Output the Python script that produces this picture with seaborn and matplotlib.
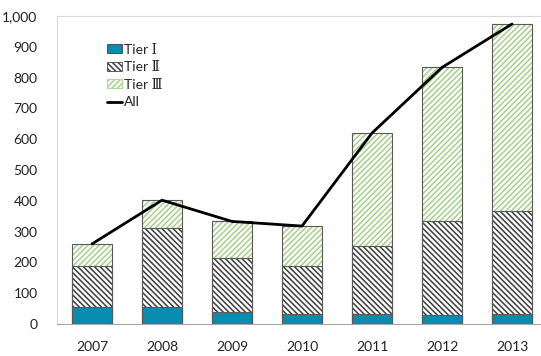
import numpy as np
import pandas as pd
import matplotlib
matplotlib.use("Agg")
import matplotlib.pyplot as plt
import seaborn as sns
from matplotlib.patches import Patch
from matplotlib.lines import Line2D
from matplotlib.ticker import FixedLocator, FuncFormatter

# data
years = ["2007", "2008", "2009", "2010", "2011", "2012", "2013"]
tier1 = [55, 55, 38, 32, 32, 28, 32]
tier2 = [134, 258, 177, 156, 221, 305, 335]
tier3 = [71, 89, 118, 130, 367, 500, 607]
total = [260, 402, 333, 318, 620, 833, 974]

sns.set_style("white")
plt.rcParams["font.family"] = ["Lato", "DejaVu Sans"]
plt.rcParams["hatch.linewidth"] = 1.15

H2 = "\\" * 6
H3 = "/" * 6

df = pd.DataFrame({"Year": years, "T1": tier1, "T2": tier2, "T3": tier3, "All": total})
df["c1"] = df["T1"]
df["c2"] = df["T1"] + df["T2"]
df["c3"] = df["c2"] + df["T3"]

fig = plt.figure(figsize=(5.41, 3.56), dpi=100)
ax = fig.add_axes([57 / 541, 32 / 356, 490 / 541, 308 / 356])

w = 0.56
# hatched layers (tallest first, overlaid)
sns.barplot(data=df, x="Year", y="c3", order=years, color="white", saturation=1,
            width=w, hatch=H3, edgecolor="#A9D18E", linewidth=0, ax=ax)
sns.barplot(data=df, x="Year", y="c2", order=years, color="white", saturation=1,
            width=w, hatch=H2, edgecolor="#444444", linewidth=0, ax=ax)
sns.barplot(data=df, x="Year", y="c1", order=years, color="#0A8BB0", saturation=1,
            width=w, edgecolor="#0A8BB0", linewidth=0, ax=ax)
# outlines
for col in ["c3", "c2", "c1"]:
    sns.barplot(data=df, x="Year", y=col, order=years, fill=False, width=w,
                edgecolor="#595959", linewidth=0.8, ax=ax)

sns.lineplot(x=np.arange(len(years)), y=df["All"].values, color="black",
             linewidth=2.0, ax=ax)

ax.set_xlim(-0.5, 6.5)
ax.set_ylim(0, 1000)
ax.set_yticks(np.arange(0, 1001, 100))
ax.yaxis.set_major_formatter(FuncFormatter(lambda v, p: f"{int(v):,}"))
ax.set_xlabel("")
ax.set_ylabel("")
ax.tick_params(axis="both", length=0, labelsize=10, colors="#222222")
ax.tick_params(axis="y", pad=14)
ax.tick_params(axis="x", pad=12)
ax.xaxis.set_minor_locator(FixedLocator(np.arange(0.5, 6.0, 1.0)))
ax.tick_params(axis="x", which="minor", direction="in", length=4, color="#BFBFBF", width=0.8)

for s in ["left", "top", "right"]:
    ax.spines[s].set_color("#D9D9D9")
    ax.spines[s].set_linewidth(0.8)
ax.spines["bottom"].set_color("#A6A6A6")
ax.spines["bottom"].set_linewidth(0.8)

handles = [
    Patch(facecolor="#0A8BB0", edgecolor="#404040", linewidth=0.6),
    Patch(facecolor="white", edgecolor="#444444", hatch=H2, linewidth=0.6),
    Patch(facecolor="white", edgecolor="#A9D18E", hatch=H3, linewidth=0.6),
    Line2D([0], [0], color="black", linewidth=2.0),
]
labels = ["Tier Ⅰ", "Tier Ⅱ", "Tier Ⅲ", "All"]
leg = ax.legend(handles, labels, loc="upper left", bbox_to_anchor=(44 / 490, 1 - 22 / 308),
                frameon=False, handlelength=1.1, handleheight=0.6,
                handletextpad=0.15, labelspacing=0.4, borderaxespad=0,
                prop={"family": ["Lato", "DejaVu Serif", "Noto Sans CJK SC"], "size": 10})

fig.savefig("out.png", dpi=100)
